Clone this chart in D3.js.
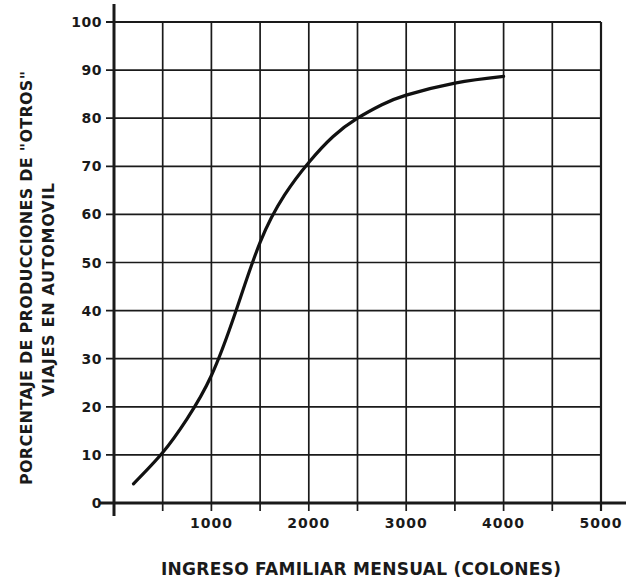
<!DOCTYPE html>
<html>
<head>
<meta charset="utf-8">
<script src="https://cdn.jsdelivr.net/npm/d3@7"></script>
<style>
  html, body { margin: 0; padding: 0; background: #fff; }
  svg { display: block; }
  text { font-family: "DejaVu Sans", "Liberation Sans", sans-serif; font-weight: bold; fill: #1a1a1a; }
</style>
</head>
<body>
<svg id="chart" width="626" height="585"></svg>
<script>
// Data
const incomes  = [200, 500, 750, 1000, 1250, 1500, 1750, 2000, 2250, 2500, 2750, 3000, 3500, 4000];
const percents = [4, 10.5, 17.5, 26.5, 39.8, 54.2, 64, 70.8, 76.2, 80.0, 82.8, 84.8, 87.3, 88.7];
const xTickLabels = [1000, 2000, 3000, 4000, 5000];
const xGrid = [500, 1000, 1500, 2000, 2500, 3000, 3500, 4000, 4500, 5000];
const yTickLabels = [0, 10, 20, 30, 40, 50, 60, 70, 80, 90, 100];
const xTitle = "INGRESO FAMILIAR MENSUAL (COLONES)";
const yTitle1 = "PORCENTAJE DE PRODUCCIONES DE \"OTROS\"";
const yTitle2 = "VIAJES EN AUTOMOVIL";

const ink = "#1a1a1a";
const svg = d3.select("#chart");
const x = d3.scaleLinear().domain([0, 5000]).range([114, 601]);
const y = d3.scaleLinear().domain([0, 100]).range([503, 22]);

// vertical grid lines with ticks below axis
svg.append("g").selectAll("line").data(xGrid).join("line")
  .attr("x1", d => x(d)).attr("x2", d => x(d))
  .attr("y1", y(100)).attr("y2", y(0) + 8)
  .attr("stroke", ink).attr("stroke-width", d => d === 5000 ? 2.2 : 1.7);

// horizontal grid lines with ticks left of axis
svg.append("g").selectAll("line").data(yTickLabels.filter(d => d > 0)).join("line")
  .attr("x1", x(0) - 8).attr("x2", x(5000))
  .attr("y1", d => y(d)).attr("y2", d => y(d))
  .attr("stroke", ink).attr("stroke-width", d => d === 100 ? 2.2 : 1.7);

// main axes
svg.append("line").attr("x1", x(0)).attr("x2", x(0)).attr("y1", 4).attr("y2", 516)
  .attr("stroke", ink).attr("stroke-width", 3);
svg.append("line").attr("x1", 100).attr("x2", 626).attr("y1", y(0)).attr("y2", y(0))
  .attr("stroke", ink).attr("stroke-width", 3);

// y tick labels
svg.append("g").selectAll("text").data(yTickLabels).join("text")
  .attr("x", 102).attr("y", d => y(d)).attr("dy", "0.36em")
  .attr("text-anchor", "end").attr("font-size", 14).attr("letter-spacing", 0.5)
  .text(d => d);

// x tick labels
svg.append("g").selectAll("text").data(xTickLabels).join("text")
  .attr("x", d => x(d)).attr("y", 528)
  .attr("text-anchor", "middle").attr("font-size", 14).attr("letter-spacing", 1)
  .text(d => d);

// curve
const line = d3.line()
  .x((d, i) => x(incomes[i]))
  .y(d => y(d))
  .curve(d3.curveNatural);
svg.append("path").datum(percents)
  .attr("d", line)
  .attr("fill", "none").attr("stroke", "#111").attr("stroke-width", 3.2)
  .attr("stroke-linecap", "round");

// axis titles
svg.append("text").attr("x", 361).attr("y", 575).attr("text-anchor", "middle")
  .attr("font-size", 17).attr("textLength", 400).attr("lengthAdjust", "spacing")
  .text(xTitle);

svg.append("text").attr("transform", "translate(32,278) rotate(-90)")
  .attr("text-anchor", "middle").attr("font-size", 16)
  .attr("textLength", 414).attr("lengthAdjust", "spacing")
  .text(yTitle1);
svg.append("text").attr("transform", "translate(54,290) rotate(-90)")
  .attr("text-anchor", "middle").attr("font-size", 16)
  .attr("textLength", 214).attr("lengthAdjust", "spacing")
  .text(yTitle2);
</script>
</body>
</html>
